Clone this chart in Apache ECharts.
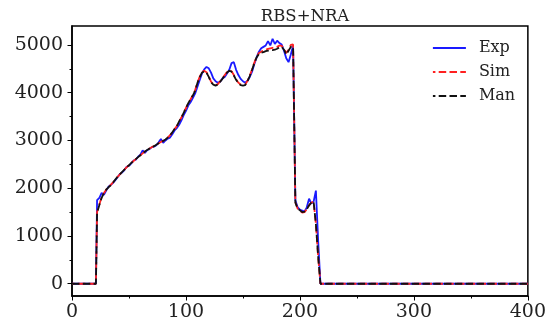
<!DOCTYPE html>
<html>
<head>
<meta charset="utf-8">
<script src="https://cdn.jsdelivr.net/npm/echarts@6/dist/echarts.min.js"></script>
<style>
  html, body { margin: 0; padding: 0; background: #fff; }
  #chart { width: 549px; height: 324px; }
</style>
</head>
<body>
<div id="chart"></div>
<script>
// Sample positions shared by the three curves
const xs = [0, 21,
  22, 24, 26, 28, 30, 32, 34, 36, 38, 40,
  42, 44, 46, 48, 50, 52, 54, 56, 58, 60,
  62, 64, 66, 68, 70, 72, 74, 76, 78, 80,
  82, 84, 86, 88, 90, 92, 94, 96, 98, 100,
  102, 104, 106, 108, 110, 112, 114, 116, 118, 120,
  122, 124, 126, 128, 130, 132, 134, 136, 138, 140,
  142, 144, 146, 148, 150, 152, 154, 156, 158, 160,
  162, 164, 166, 168, 170, 172, 174, 176, 178, 180,
  182, 184, 186, 188, 190, 192, 194, 196, 198, 200,
  202, 204, 206, 208, 210, 212, 214, 216, 218,
  400];

// Measured yield
const expVals = [0, 0,
  1750, 1800, 1900, 1860, 1950, 2030, 2070, 2110, 2170, 2230,
  2300, 2330, 2380, 2450, 2470, 2520, 2580, 2600, 2660, 2700,
  2790, 2740, 2800, 2820, 2860, 2870, 2900, 2960, 3030, 2950,
  3000, 3040, 3060, 3130, 3210, 3260, 3330, 3420, 3530, 3620,
  3730, 3800, 3890, 3980, 4120, 4260, 4400, 4490, 4540, 4510,
  4420, 4300, 4240, 4210, 4230, 4300, 4330, 4400, 4480, 4620,
  4640, 4480, 4370, 4290, 4240, 4210, 4250, 4330, 4440, 4600,
  4740, 4860, 4930, 4960, 4990, 5080, 4990, 5130, 5020, 5090,
  5040, 5010, 4880, 4720, 4640, 4800, 4990, 1750, 1600, 1550,
  1530, 1510, 1600, 1780, 1680, 1720, 1950, 900, 0,
  0];

// Simulated yield
const simVals = [0, 0,
  1500, 1660, 1810, 1900, 1970, 2020, 2070, 2120, 2180, 2240,
  2290, 2340, 2390, 2440, 2480, 2530, 2570, 2610, 2650, 2690,
  2730, 2770, 2800, 2830, 2860, 2880, 2910, 2940, 2970, 2990,
  3020, 3060, 3110, 3170, 3240, 3300, 3400, 3480, 3580, 3680,
  3780, 3860, 3950, 4050, 4210, 4330, 4430, 4460, 4430, 4340,
  4230, 4180, 4160, 4180, 4240, 4300, 4370, 4430, 4470, 4450,
  4370, 4280, 4210, 4170, 4160, 4170, 4250, 4360, 4490, 4630,
  4750, 4830, 4860, 4880, 4900, 4920, 4930, 4940, 4950, 4960,
  4990, 4980, 4920, 4830, 4900, 5000, 5010, 1700, 1570, 1530,
  1490, 1500, 1560, 1640, 1700, 1720, 1250, 560, 0,
  0];

// Manually fitted yield
const manVals = [0, 0,
  1480, 1650, 1800, 1900, 1970, 2020, 2060, 2120, 2180, 2240,
  2290, 2340, 2390, 2440, 2480, 2530, 2570, 2610, 2650, 2690,
  2730, 2770, 2800, 2830, 2860, 2880, 2910, 2940, 2970, 2990,
  3020, 3060, 3110, 3170, 3240, 3300, 3400, 3480, 3580, 3680,
  3780, 3860, 3940, 4040, 4200, 4320, 4420, 4450, 4420, 4330,
  4220, 4170, 4150, 4170, 4230, 4290, 4360, 4420, 4460, 4440,
  4360, 4270, 4200, 4160, 4150, 4160, 4240, 4350, 4480, 4620,
  4740, 4810, 4840, 4850, 4870, 4880, 4890, 4890, 4900, 4920,
  4950, 4960, 4900, 4800, 4880, 4960, 4970, 1700, 1570, 1540,
  1500, 1510, 1560, 1640, 1700, 1720, 1250, 560, 0,
  0];

const seriesNames = ['Exp', 'Sim', 'Man'];
const yMajorTicks = [0, 1000, 2000, 3000, 4000, 5000];
const yMinorTicks = [500, 1500, 2500, 3500, 4500];

const FONT = '"DejaVu Serif", serif';
const pairs = vals => xs.map((x, i) => [x, vals[i]]);
const plain = v => String(v);

const chart = echarts.init(document.getElementById('chart'), null, { renderer: 'canvas' });

const yRange = { min: -257, max: 5397 };

chart.setOption({
  animation: false,
  backgroundColor: '#fff',
  title: {
    text: 'RBS+NRA',
    left: 300,
    textAlign: 'center',
    top: 3,
    textStyle: { fontFamily: FONT, fontSize: 16.5, fontWeight: 'normal', color: '#222' }
  },
  legend: {
    orient: 'vertical',
    left: 427,
    top: 35,
    itemWidth: 33,
    itemHeight: 16,
    itemGap: 8,
    data: seriesNames,
    itemStyle: { opacity: 0 },
    lineStyle: { width: 1.8 },
    textStyle: { fontFamily: FONT, fontSize: 16, color: '#222', padding: [0, 0, 0, 8], lineHeight: 16 }
  },
  grid: {
    left: 72, right: 21, top: 26, bottom: 28,
    show: true, borderColor: '#000', borderWidth: 1.5, backgroundColor: 'transparent'
  },
  xAxis: {
    type: 'value',
    min: 0, max: 400, interval: 100,
    axisLine: { show: true, onZero: false, lineStyle: { color: '#000', width: 1.5 } },
    axisTick: { show: true, inside: false, length: 4.5, lineStyle: { color: '#000', width: 1 } },
    minorTick: { show: true, splitNumber: 2, length: 2.5, lineStyle: { color: '#000', width: 1 } },
    splitLine: { show: false },
    minorSplitLine: { show: false },
    axisLabel: { fontFamily: FONT, fontSize: 19, color: '#222', margin: 7, formatter: plain }
  },
  yAxis: [
    {
      type: 'value',
      ...yRange,
      axisLine: { show: true, onZero: false, lineStyle: { color: '#000', width: 1.5 } },
      axisTick: { show: true, inside: false, length: 4.5, customValues: yMajorTicks, lineStyle: { color: '#000', width: 1 } },
      splitLine: { show: false },
      axisLabel: { fontFamily: FONT, fontSize: 19, color: '#222', margin: 9, customValues: yMajorTicks, formatter: plain }
    },
    {
      type: 'value',
      ...yRange,
      position: 'left',
      axisLine: { show: false },
      axisTick: { show: true, inside: false, length: 2.5, customValues: yMinorTicks, lineStyle: { color: '#000', width: 1 } },
      splitLine: { show: false },
      axisLabel: { show: false }
    }
  ],
  series: [
    {
      name: 'Exp', type: 'line', data: pairs(expVals),
      showSymbol: false, symbol: 'none',
      lineStyle: { color: '#1a1aff', width: 1.8 },
      itemStyle: { color: '#1a1aff' }
    },
    {
      name: 'Sim', type: 'line', data: pairs(simVals),
      showSymbol: false, symbol: 'none',
      lineStyle: { color: '#ff2020', width: 1.8, type: [7.5, 3.3], dashOffset: 5 },
      itemStyle: { color: '#ff2020' }
    },
    {
      name: 'Man', type: 'line', data: pairs(manVals),
      showSymbol: false, symbol: 'none',
      lineStyle: { color: '#111', width: 1.8, type: [7.5, 3.3] },
      itemStyle: { color: '#111' }
    }
  ]
});
</script>
</body>
</html>
